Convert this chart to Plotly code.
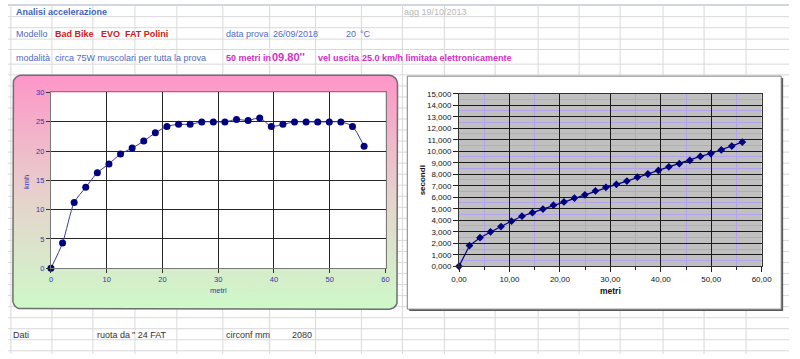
import numpy as np
import plotly.graph_objects as go

# ---------------- data ----------------
distanza_m = [0.00, 2.08, 4.16, 6.24, 8.32, 10.40, 12.48, 14.56, 16.64, 18.72,
              20.80, 22.88, 24.96, 27.04, 29.12, 31.20, 33.28, 35.36, 37.44, 39.52,
              41.60, 43.68, 45.76, 47.84, 49.92, 52.00, 54.08, 56.16]
velocita_kmh = [0, 4.3, 11.2, 13.8, 16.3, 17.8, 19.5, 20.5, 21.7, 23.1,
                24.2, 24.55, 24.55, 24.97, 24.97, 24.97, 25.4, 25.2, 25.65, 24.2,
                24.55, 24.97, 24.97, 24.97, 24.97, 24.97, 24.2, 20.8]
tempo_s = [0.00, 1.80, 2.48, 2.99, 3.45, 3.92, 4.35, 4.66, 4.97, 5.31,
           5.59, 5.93, 6.21, 6.55, 6.86, 7.12, 7.40, 7.74, 8.02, 8.33,
           8.64, 8.92, 9.21, 9.55, 9.80, 10.11, 10.45, 10.79]

vel_ticks = [0, 5, 10, 15, 20, 25, 30]
metri_ticks = [0, 10, 20, 30, 40, 50, 60]
sec_ticks = list(range(0, 16))

W, H = 800, 359
FONT = "Liberation Sans"
BLUE_TXT = "#4f6bc4"
AX_BLUE = "#3333b0"
MAG = "#d22ec8"
RED = "#cc2020"


def rounded_rect(x0, y0, x1, y1, r, n=10):
    xs, ys = [], []
    corners = [(x1 - r, y0 + r, -90, 0), (x1 - r, y1 - r, 0, 90),
               (x0 + r, y1 - r, 90, 180), (x0 + r, y0 + r, 180, 270)]
    for cx, cy, a0, a1 in corners:
        for t in np.linspace(np.radians(a0), np.radians(a1), n):
            xs.append(cx + r * np.cos(t))
            ys.append(cy + r * np.sin(t))
    xs.append(xs[0])
    ys.append(ys[0])
    return xs, ys


def rect(x0, y0, x1, y1):
    return [x0, x1, x1, x0, x0], [y0, y0, y1, y1, y0]


fig = go.Figure()

# ---- spreadsheet cell grid (background subplot, pixel coordinates) ----
col_x = [3, 45, 87, 130, 173, 220, 268, 315, 362, 404, 447, 499, 543, 585, 627, 671, 713, 756]
row_y = [13, 24.3, 36, 46.7, 61.7]
y = 72.7
while y < H:
    row_y.append(y)
    y += 11.32
gx, gy = [], []
for cx in col_x:
    gx += [cx, cx, None]
    gy += [2, H, None]
for ry in row_y:
    gx += [0, W, None]
    gy += [ry, ry, None]
fig.add_trace(go.Scatter(x=gx, y=gy, mode="lines", line=dict(color="#d9d9d9", width=1),
                         hoverinfo="skip", xaxis="x", yaxis="y"))
fig.add_trace(go.Scatter(x=rect(0, 0, W, 2)[0], y=rect(0, 0, W, 2)[1], mode="lines",
                         fill="toself", fillcolor="#d2d6de", line=dict(width=0),
                         hoverinfo="skip", xaxis="x", yaxis="y"))

# ---- left chart box with gradient ----
bx, by = rounded_rect(5, 73, 399, 313, 9)
fig.add_trace(go.Scatter(x=bx, y=by, mode="lines", fill="toself",
                         fillgradient=dict(type="vertical", start=73, stop=313,
                                           colorscale=[[0, "#fd97c8"], [0.5, "#e6d2cc"], [1, "#ccfcc8"]]),
                         line=dict(color="#6e6e6e", width=1.5),
                         hoverinfo="skip", xaxis="x", yaxis="y"))
px, py = rect(44, 90.7, 386.7, 271)
fig.add_trace(go.Scatter(x=px, y=py, mode="lines", fill="toself", fillcolor="white",
                         line=dict(width=0), hoverinfo="skip", xaxis="x", yaxis="y"))

# ---- right chart box ----
sx, sy = rect(411, 76, 794, 315)
fig.add_trace(go.Scatter(x=sx, y=sy, mode="lines", fill="toself", fillcolor="#5a5a5a",
                         line=dict(width=0), hoverinfo="skip", xaxis="x", yaxis="y"))
rx, ry_ = rect(409, 74, 792, 313)
fig.add_trace(go.Scatter(x=rx, y=ry_, mode="lines", fill="toself", fillcolor="white",
                         line=dict(color="#808080", width=1), hoverinfo="skip", xaxis="x", yaxis="y"))
qx, qy = rect(462, 92, 772, 269)
fig.add_trace(go.Scatter(x=qx, y=qy, mode="lines", fill="toself", fillcolor="#c0c0c0",
                         line=dict(width=0), hoverinfo="skip", xaxis="x", yaxis="y"))

# ---- data traces ----
fig.add_trace(go.Scatter(x=distanza_m, y=velocita_kmh, mode="lines+markers",
                         line=dict(color="#3c3c8c", width=1, shape="spline", smoothing=0.7),
                         marker=dict(symbol="circle", size=7, color="#000080"),
                         cliponaxis=False, xaxis="x2", yaxis="y2"))
fig.add_trace(go.Scatter(x=distanza_m, y=tempo_s, mode="lines+markers",
                         line=dict(color="#000080", width=1.2),
                         marker=dict(symbol="diamond", size=6, color="#000080"),
                         cliponaxis=False, xaxis="x3", yaxis="y3"))

ann = []


def txt(x, y, s, size=9, color=BLUE_TXT, bold=False, anchor="left", angle=0):
    ann.append(dict(x=x, y=y, xref="x", yref="y", text=("<b>%s</b>" % s) if bold else s,
                    showarrow=False, xanchor=anchor, yanchor="middle", textangle=angle,
                    font=dict(family=FONT, size=size, color=color)))


# spreadsheet texts
txt(6, 7.8, "Analisi accelerazione", 9, "#4262c0", bold=True)
txt(404, 7.8, "agg 19/10/2013", 9, "#b8b8b8")
txt(6, 31, "Modello", 9)
txt(46, 31, "Bad Bike &nbsp; EVO &nbsp;FAT Polini", 9, RED, bold=True)
txt(221, 31, "data prova", 9)
txt(269, 31, "26/09/2018", 9)
txt(358, 31, "20", 9, anchor="right")
txt(359, 31, "°C", 9)
txt(6, 55, "modalità", 9)
txt(46, 55, "circa 75W muscolari per tutta la prova", 9)
txt(221, 55, "50 metri in", 9, MAG, bold=True)
txt(268, 54, "09.80''", 11, MAG, bold=True)
txt(315, 55, "vel uscita", 9, MAG, bold=True)
txt(361, 55, "25.0 km/h limitata elettronicamente", 9, MAG, bold=True)
txt(3, 340, "Dati", 9, "#333333")
txt(89, 340, "ruota da", 9, "#333333")
txt(125, 340, "\"&nbsp;24 FAT", 9, "#333333")
txt(221, 340, "circonf mm", 9, "#333333")
txt(313, 340, "2080", 9, "#333333", anchor="right")

# axis titles
txt(19, 183, "kmh", 7.5, AX_BLUE, anchor="center", angle=-90)
txt(216, 294, "metri", 7.5, AX_BLUE, anchor="center")
txt(425, 181, "secondi", 8, "#111111", bold=True, anchor="center", angle=-90)
txt(617, 294, "metri", 8.5, "#111111", bold=True, anchor="center")

bg_ax = dict(domain=[0, 1], visible=False, fixedrange=True, showgrid=False, zeroline=False)

fig.update_layout(
    width=W, height=H, margin=dict(l=0, r=0, t=0, b=0),
    paper_bgcolor="white", plot_bgcolor="rgba(0,0,0,0)",
    showlegend=False, separators=",.", hovermode=False,
    font=dict(family=FONT),
    annotations=ann,
    xaxis=dict(bg_ax, range=[0, W]),
    yaxis=dict(bg_ax, range=[H, 0]),
    xaxis2=dict(domain=[44 / W, 386.7 / W], anchor="y2", range=[0, 60],
                tickvals=metri_ticks, showgrid=True, gridcolor="#262626", gridwidth=1,
                showline=True, linecolor="#7a7a7a", linewidth=1, mirror=True,
                ticks="outside", ticklen=4, tickcolor="#333333",
                tickfont=dict(family=FONT, size=7.5, color=AX_BLUE), zeroline=False,
                fixedrange=True),
    yaxis2=dict(domain=[1 - 271 / H, 1 - 90.7 / H], anchor="x2", range=[0, 30],
                tickvals=vel_ticks, showgrid=True, gridcolor="#262626", gridwidth=1,
                showline=True, linecolor="#7a7a7a", linewidth=1, mirror=True,
                ticks="outside", ticklen=4, tickcolor="#333333",
                tickfont=dict(family=FONT, size=7.5, color=AX_BLUE), zeroline=False,
                fixedrange=True),
    xaxis3=dict(domain=[462 / W, 772 / W], anchor="y3", range=[0, 60],
                tickvals=metri_ticks, tickformat=".2f", showgrid=True, gridcolor="#1a1a1a",
                gridwidth=1, showline=True, linecolor="#333333", linewidth=1, mirror=True,
                ticks="outside", ticklen=5, tickcolor="#222222",
                minor=dict(dtick=5, showgrid=True, gridcolor="#b4a2ee", gridwidth=1,
                           ticks="outside", ticklen=3, tickcolor="#222222"),
                tickfont=dict(family=FONT, size=8, color="#111111"), zeroline=False,
                fixedrange=True),
    yaxis3=dict(domain=[1 - 269 / H, 1 - 92 / H], anchor="x3", range=[0, 15],
                tickvals=sec_ticks, tickformat=".3f", showgrid=True, gridcolor="#1a1a1a",
                gridwidth=1, showline=True, linecolor="#333333", linewidth=1, mirror=True,
                ticks="outside", ticklen=5, tickcolor="#222222",
                minor=dict(dtick=0.5, showgrid=True, gridcolor="#b4a2ee", gridwidth=1),
                tickfont=dict(family=FONT, size=8, color="#111111"), zeroline=False,
                fixedrange=True),
)

fig.write_html("out.html")
